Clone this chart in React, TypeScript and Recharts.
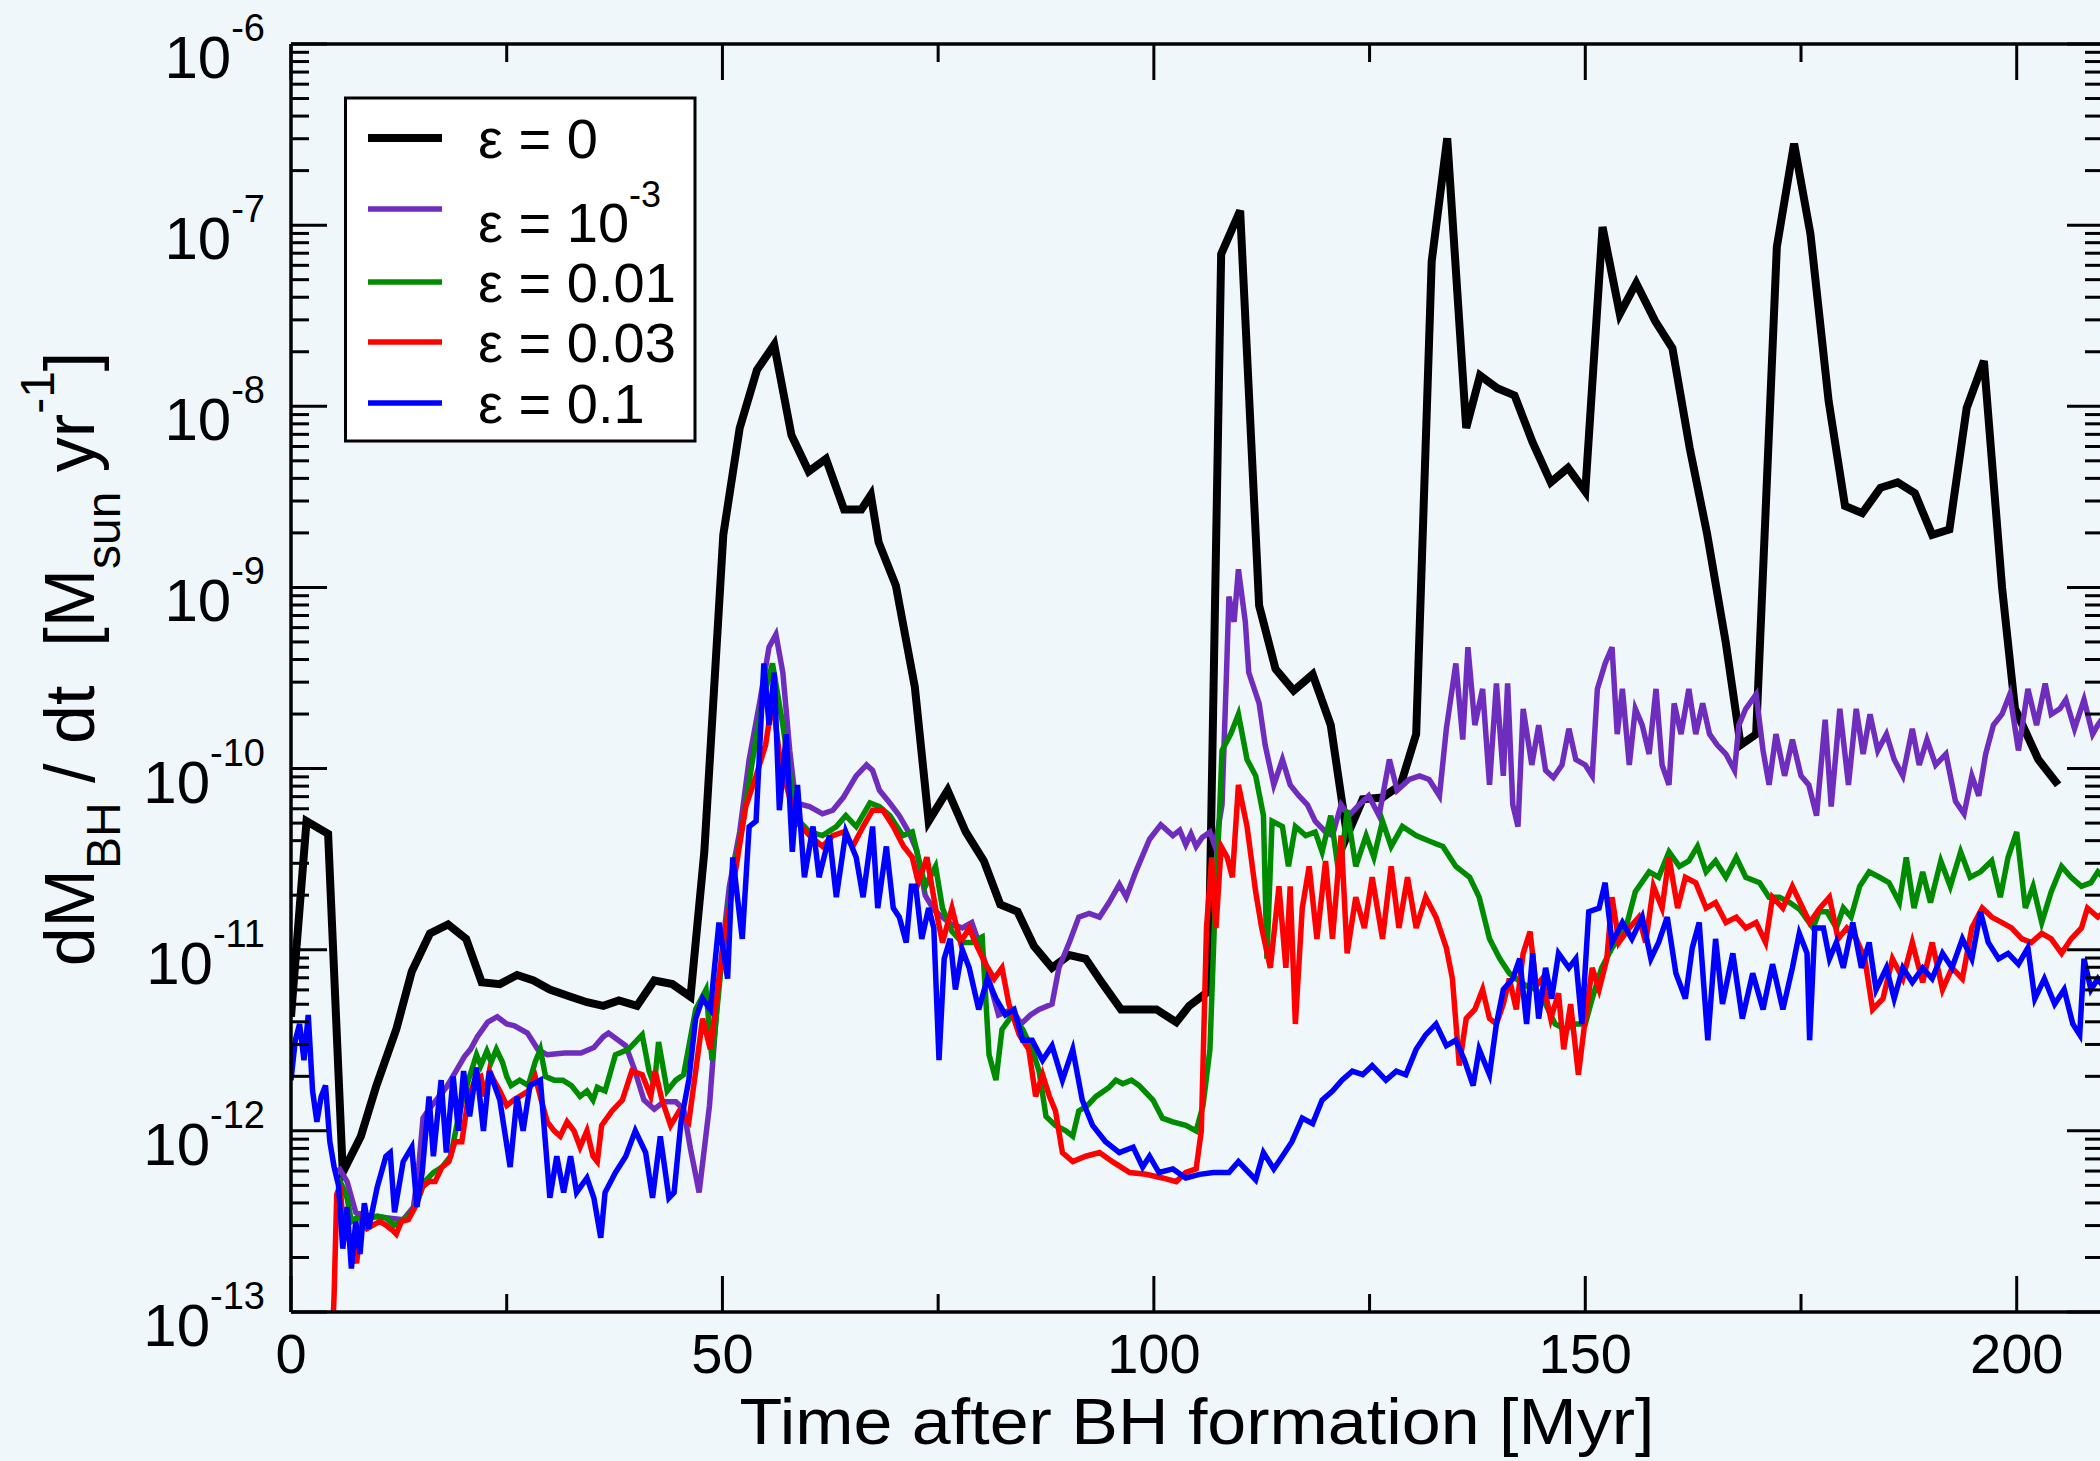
import React from 'react'
import { Line, LineChart, XAxis, YAxis } from 'recharts'

const BG = '#f0f7fb'
const FONT = '"Liberation Sans", Arial, Helvetica, sans-serif'

// [time after BH formation (Myr), log10 of dM/dt (Msun/yr)]
const eps0: [number, number][] = [
  [0, -11.37], [1.8, -10.29], [4.3, -10.36], [6.0, -12.23], [8.1, -12.03], [9.9, -11.75], [12.2, -11.44], [14.0, -11.12],
  [16.1, -10.91], [18.2, -10.86], [20.3, -10.94], [22.1, -11.18], [24.2, -11.19], [26.2, -11.14], [28.1, -11.17], [30.0, -11.22],
  [32.4, -11.26], [34.3, -11.29], [36.2, -11.31], [38.0, -11.28], [40.1, -11.31], [42.1, -11.17], [44.2, -11.19], [46.3, -11.26],
  [47.9, -10.46], [50.1, -8.71], [52.0, -8.12], [54.0, -7.8], [56.0, -7.66], [58.0, -8.16], [60.0, -8.36], [62.0, -8.29],
  [64.1, -8.57], [66.1, -8.57], [67.2, -8.49], [68.1, -8.75], [70.1, -8.99], [72.3, -9.55], [73.9, -10.29], [76.1, -10.12],
  [78.2, -10.35], [80.3, -10.51], [82.2, -10.75], [84.2, -10.79], [86.1, -10.98], [88.2, -11.1], [90.2, -11.03], [92.1, -11.05],
  [94.1, -11.19], [96.2, -11.33], [98.3, -11.33], [100.3, -11.33], [102.6, -11.4], [104.1, -11.31], [106.3, -11.23], [107.8, -7.16],
  [110.0, -6.92], [112.2, -9.1], [114.1, -9.45], [116.2, -9.57], [118.4, -9.48], [120.5, -9.76], [121.7, -10.15], [122.4, -10.37],
  [124.2, -10.17], [126.5, -10.16], [128.6, -10.09], [130.4, -9.81], [132.2, -7.2], [134.0, -6.52], [136.2, -8.12], [137.8, -7.83],
  [139.8, -7.9], [141.8, -7.94], [143.9, -8.2], [146.0, -8.42], [148.0, -8.34], [150.0, -8.47], [152.0, -7.01], [154.0, -7.49],
  [155.9, -7.32], [158.1, -7.53], [160.1, -7.68], [162.1, -8.23], [164.1, -8.7], [166.3, -9.31], [168.0, -9.87], [169.8, -9.81],
  [172.2, -7.12], [174.2, -6.55], [176.1, -7.05], [178.2, -7.97], [180.1, -8.55], [182.1, -8.59], [184.2, -8.45], [186.2, -8.42],
  [188.2, -8.48], [190.2, -8.71], [192.2, -8.68], [194.2, -8.01], [196.2, -7.75], [198.3, -9.0], [199.8, -9.67], [202.5, -9.95],
  [204.8, -10.09],
]

const eps1e3: [number, number][] = [
  [5.5, -12.2], [6.5, -12.28], [7.5, -12.45], [9, -12.47], [11, -12.48], [13, -12.49], [14.2, -12.42], [14.8, -12.2],
  [15.3, -11.93], [16, -11.88], [17, -11.82], [18, -11.76], [19, -11.68], [20.1, -11.59], [20.8, -11.55], [21.6, -11.48],
  [22.8, -11.4], [23.9, -11.37], [25.0, -11.41], [25.9, -11.42], [27.4, -11.46], [28.6, -11.55], [29.7, -11.58], [31.7, -11.57],
  [33.6, -11.57], [35.1, -11.54], [36.2, -11.48], [36.8, -11.46], [38.8, -11.53], [39.8, -11.66], [40.9, -11.83], [42.1, -11.88],
  [43.2, -11.84], [44.6, -11.84], [45.5, -11.88], [46.3, -12.1], [47.3, -12.34], [48.5, -11.86], [49.6, -11.16], [50.8, -10.65],
  [52.0, -10.35], [53.1, -9.95], [54.3, -9.64], [55.4, -9.33], [56.2, -9.26], [57.0, -9.47], [57.8, -9.9], [58.5, -10.19],
  [60.1, -10.21], [61.6, -10.25], [62.8, -10.23], [64.0, -10.16], [65.5, -10.04], [66.7, -9.98], [67.4, -10.01], [68.2, -10.12],
  [69.4, -10.19], [70.5, -10.26], [71.7, -10.36], [72.5, -10.45], [73.5, -10.7], [74.5, -10.78], [75.5, -10.82], [76.5, -10.86],
  [77.8, -10.88], [78.9, -10.85], [80.0, -11.0], [80.5, -11.08], [81.2, -11.22], [82.0, -11.36], [83.0, -11.34], [83.6, -11.33],
  [84.6, -11.41], [85.7, -11.36], [86.7, -11.33], [88.2, -11.3], [89.0, -11.1], [90.2, -10.96], [91.3, -10.82], [92.5, -10.8],
  [93.7, -10.82], [94.8, -10.74], [96.0, -10.64], [96.8, -10.71], [97.9, -10.57], [99.5, -10.39], [100.8, -10.31], [102.2, -10.37],
  [103.0, -10.34], [103.7, -10.42], [104.3, -10.36], [104.9, -10.43], [105.6, -10.38], [106.5, -10.35], [107.1, -10.43], [107.9, -10.2],
  [108.4, -9.5], [108.7, -9.05], [109.3, -9.19], [109.8, -8.9], [110.6, -9.19], [111.0, -9.47], [112.2, -9.64], [112.9, -9.87],
  [113.9, -10.09], [114.9, -9.95], [115.8, -10.09], [116.8, -10.15], [117.8, -10.2], [118.7, -10.29], [119.9, -10.35], [120.7, -10.37],
  [121.7, -10.2], [122.6, -10.26], [123.8, -10.2], [124.9, -10.15], [126.1, -10.26], [127.3, -9.95], [128.2, -10.12], [129.6, -10.06],
  [130.8, -10.04], [131.9, -10.06], [133.1, -10.15], [133.9, -9.78], [135.0, -9.42], [135.8, -9.84], [136.4, -9.33], [137.2, -9.76],
  [138.1, -9.56], [138.9, -10.09], [139.7, -9.53], [140.5, -10.04], [141.0, -9.53], [141.6, -10.2], [142.2, -10.32], [142.8, -9.67],
  [143.8, -9.98], [144.6, -9.76], [145.4, -10.01], [146.3, -10.05], [147.3, -9.98], [148.1, -9.78], [148.9, -9.95], [150.0, -9.98],
  [150.8, -10.04], [151.4, -9.56], [152.3, -9.42], [153.1, -9.33], [153.7, -9.81], [154.3, -9.56], [155.1, -9.98], [155.8, -9.67],
  [156.6, -9.76], [157.4, -9.92], [158.2, -9.56], [158.9, -9.98], [159.7, -10.09], [160.3, -9.64], [161.1, -9.81], [162.0, -9.56],
  [162.8, -9.81], [163.6, -9.64], [164.4, -9.81], [165.3, -9.87], [166.3, -9.92], [167.3, -10.01], [167.8, -9.76], [168.6, -9.67],
  [169.8, -9.59], [170.6, -9.9], [171.3, -10.09], [172.1, -9.81], [173.1, -10.04], [174.0, -9.84], [175.0, -10.04], [175.9, -10.09],
  [176.8, -10.26], [177.8, -9.73], [178.5, -10.21], [179.5, -9.67], [180.5, -10.09], [181.4, -9.67], [182.2, -9.92], [183.0, -9.7],
  [183.9, -9.9], [184.9, -9.81], [185.8, -9.95], [186.8, -10.04], [187.9, -9.78], [188.7, -9.98], [189.6, -9.84], [190.6, -9.98],
  [191.8, -9.92], [192.9, -10.18], [193.9, -10.25], [194.8, -10.04], [195.6, -10.15], [196.4, -9.92], [197.3, -9.76], [198.3, -9.7],
  [199.2, -9.59], [200.2, -9.9], [201.3, -9.56], [202.3, -9.76], [203.3, -9.53], [204.0, -9.7], [205.0, -9.67], [205.7, -9.62],
  [206.7, -9.78], [207.8, -9.62], [208.8, -9.81], [209.4, -9.76], [210, -9.72],
]

const eps001: [number, number][] = [
  [5.5, -12.26], [6, -12.31], [6.5, -12.37], [7, -12.5], [7.6, -12.48], [8.5, -12.49], [9.3, -12.48], [10, -12.47],
  [11, -12.48], [12, -12.52], [13, -12.49], [14, -12.45], [14.8, -12.37], [15.5, -12.28], [16.5, -12.23], [17.5, -12.2],
  [18.5, -12.14], [19.3, -11.95], [20, -11.81], [20.7, -11.7], [21.5, -11.58], [22, -11.64], [22.7, -11.56], [23.2, -11.62],
  [23.8, -11.55], [24.5, -11.62], [25, -11.7], [25.5, -11.75], [26.5, -11.72], [27.5, -11.75], [28.3, -11.62], [28.9, -11.55],
  [29.5, -11.7], [30.5, -11.72], [31.5, -11.72], [32.5, -11.75], [33.5, -11.81], [34.3, -11.78], [35, -11.83], [35.5, -11.76],
  [36.4, -11.78], [37.6, -11.58], [39.1, -11.55], [40.7, -11.47], [41.5, -11.67], [42.1, -11.75], [42.6, -11.51], [43.6, -11.78],
  [44.6, -11.72], [45.5, -11.69], [46.9, -11.33], [48.1, -11.22], [48.8, -11.61], [50.0, -11.02], [51.2, -10.6], [52.3, -10.32],
  [53.5, -9.95], [54.6, -9.64], [55.8, -9.42], [57.0, -9.76], [58.0, -10.09], [58.9, -10.29], [60.1, -10.35], [61.6, -10.37],
  [63.2, -10.32], [64.3, -10.26], [65.5, -10.32], [67.1, -10.19], [68.2, -10.21], [69.4, -10.26], [70.9, -10.37], [72.0, -10.35],
  [72.7, -10.49], [73.5, -10.65], [74.7, -10.54], [75.5, -10.77], [76.6, -10.9], [77.8, -10.96], [78.9, -10.96], [80.1, -10.93],
  [80.9, -11.58], [81.7, -11.72], [82.4, -11.44], [83.6, -11.36], [84.8, -11.44], [85.9, -11.55], [86.7, -11.67], [87.5, -11.92],
  [88.6, -11.97], [89.8, -12.0], [90.6, -12.03], [91.3, -11.89], [92.3, -11.86], [93.3, -11.81], [94.8, -11.76], [95.6, -11.72],
  [96.4, -11.74], [97.4, -11.72], [98.3, -11.75], [99.9, -11.83], [101.0, -11.93], [102.2, -11.95], [103.7, -11.97], [104.9, -12.0],
  [105.7, -11.86], [106.5, -11.55], [107.0, -10.88], [107.6, -10.26], [107.9, -9.9], [108.9, -9.81], [109.8, -9.7], [110.8, -9.95],
  [111.8, -10.04], [112.7, -10.26], [113.1, -11.05], [113.7, -10.29], [114.9, -10.32], [115.6, -10.54], [116.4, -10.32], [117.6, -10.37],
  [118.7, -10.35], [119.5, -10.46], [120.5, -10.26], [121.5, -10.6], [122.4, -10.23], [123.4, -10.54], [124.6, -10.37], [125.5, -10.49],
  [126.5, -10.29], [127.5, -10.43], [128.8, -10.32], [130.4, -10.37], [131.9, -10.4], [133.5, -10.43], [135.0, -10.54], [136.6, -10.6],
  [137.7, -10.71], [138.9, -10.94], [140.1, -11.05], [141.2, -11.13], [142.0, -11.16], [143.2, -11.2], [144.3, -11.22], [145.4, -11.3],
  [146.5, -11.41], [147.7, -11.44], [148.9, -11.41], [150.0, -11.41], [150.8, -11.27], [151.9, -11.1], [153.1, -10.99], [154.7, -10.88],
  [155.8, -10.68], [157.4, -10.57], [158.5, -10.6], [159.7, -10.46], [160.9, -10.54], [162.0, -10.51], [163.0, -10.43], [164.0, -10.57],
  [165.1, -10.51], [166.3, -10.6], [167.5, -10.49], [168.6, -10.6], [170.2, -10.63], [171.3, -10.71], [172.5, -10.71], [173.7, -10.74],
  [174.9, -10.78], [176.4, -10.88], [177.1, -10.79], [178.0, -10.79], [179.1, -10.88], [179.9, -10.77], [180.8, -10.82], [181.8, -10.65],
  [182.9, -10.57], [184.1, -10.6], [185.2, -10.63], [186.4, -10.74], [187.2, -10.49], [188.1, -10.77], [189.1, -10.57], [190.0, -10.74],
  [191.2, -10.51], [192.3, -10.65], [193.5, -10.46], [194.6, -10.6], [195.8, -10.57], [197.1, -10.51], [198.1, -10.71], [199.0, -10.49],
  [200.0, -10.35], [201.0, -10.77], [201.9, -10.65], [202.9, -10.85], [204.0, -10.68], [205.2, -10.54], [206.3, -10.6], [207.5, -10.65],
  [208.6, -10.63], [209.4, -10.57], [210, -10.6],
]

const eps003: [number, number][] = [
  [4.6, -13.4], [5.0, -12.9], [5.3, -12.35], [5.7, -12.3], [6, -12.5], [6.5, -12.56], [7.0, -12.65], [7.6, -12.73],
  [8.2, -12.5], [8.8, -12.54], [9.5, -12.52], [10.3, -12.5], [11, -12.52], [11.8, -12.55], [12.2, -12.57], [12.8, -12.5],
  [13.6, -12.49], [14.4, -12.42], [15.2, -12.31], [16, -12.28], [16.7, -12.28], [17.5, -12.2], [18.3, -12.17], [19, -12.06],
  [19.8, -12.06], [20.5, -11.83], [21.3, -11.72], [22, -11.7], [22.5, -11.81], [23, -11.67], [23.5, -11.72], [24.2, -11.78],
  [25, -11.86], [25.8, -11.83], [26.5, -11.81], [27.5, -11.78], [28.3, -11.7], [29, -11.83], [29.7, -11.95], [30.5, -12.0],
  [31.2, -12.03], [32, -11.95], [32.8, -12.0], [33.5, -12.09], [34.3, -12.0], [35, -12.14], [35.5, -12.17], [36.0, -11.97],
  [37.2, -11.89], [38.4, -11.83], [39.5, -11.67], [40.7, -11.69], [41.7, -11.81], [42.2, -11.67], [43.0, -11.83], [44.0, -11.97],
  [45.0, -11.89], [46.1, -11.95], [46.9, -11.67], [47.7, -11.38], [48.6, -11.55], [49.6, -11.16], [50.4, -10.88], [51.6, -10.54],
  [52.7, -10.21], [53.9, -10.04], [55.0, -9.87], [55.8, -9.62], [56.6, -9.92], [57.4, -10.09], [58.5, -10.29], [60.1, -10.37],
  [61.6, -10.43], [62.8, -10.37], [64.0, -10.35], [65.1, -10.43], [66.3, -10.32], [67.4, -10.23], [68.6, -10.23], [69.8, -10.32],
  [71.0, -10.43], [72.0, -10.49], [72.7, -10.63], [73.7, -10.49], [74.7, -10.77], [75.5, -10.96], [76.6, -10.77], [77.6, -10.96],
  [78.6, -10.88], [79.3, -10.96], [80.5, -11.08], [81.5, -11.16], [82.4, -11.1], [83.2, -11.3], [84.4, -11.47], [85.5, -11.55],
  [86.3, -11.81], [87.1, -11.69], [87.9, -11.81], [88.6, -11.89], [89.4, -12.12], [90.6, -12.17], [92.1, -12.14], [93.7, -12.12],
  [95.2, -12.17], [97.2, -12.23], [99.1, -12.24], [101.0, -12.26], [102.6, -12.28], [103.7, -12.23], [104.9, -12.21], [105.5, -12.0],
  [106.1, -10.88], [106.7, -10.49], [107.2, -10.88], [107.8, -10.43], [108.5, -10.49], [109.1, -10.6], [109.8, -10.09], [110.8, -10.32],
  [111.8, -10.68], [112.5, -10.88], [113.5, -11.1], [114.5, -10.65], [115.3, -11.1], [115.8, -10.65], [116.4, -11.41], [117.2, -10.77],
  [118.0, -10.54], [118.9, -10.94], [119.9, -10.51], [120.7, -10.94], [121.7, -10.37], [122.4, -11.02], [123.4, -10.71], [124.4, -10.88],
  [125.3, -10.6], [126.5, -10.94], [127.5, -10.54], [128.4, -10.88], [129.4, -10.6], [130.4, -10.88], [131.5, -10.71], [132.7, -10.82],
  [133.9, -10.99], [134.6, -11.16], [135.4, -11.64], [136.2, -11.38], [137.2, -11.33], [138.1, -11.22], [138.9, -11.38], [139.7, -11.41],
  [140.5, -11.3], [141.2, -11.16], [142.0, -11.33], [142.8, -11.02], [143.6, -10.9], [144.3, -11.2], [145.0, -11.16], [146.0, -11.38],
  [146.9, -11.24], [147.5, -11.55], [148.3, -11.3], [149.2, -11.69], [150.0, -11.38], [150.8, -11.1], [151.6, -11.22], [152.5, -11.05],
  [153.1, -10.71], [153.9, -10.96], [155.1, -10.88], [156.2, -10.82], [157.0, -10.96], [157.9, -10.65], [158.9, -10.77], [159.7, -10.49],
  [160.7, -10.77], [161.6, -10.6], [162.8, -10.63], [164.0, -10.77], [165.1, -10.74], [166.3, -10.85], [167.5, -10.82], [168.6, -10.88],
  [169.8, -10.85], [170.9, -10.96], [171.7, -10.71], [172.9, -10.77], [174.0, -10.65], [175.2, -10.77], [176.0, -10.85], [177.2, -10.77],
  [178.3, -10.71], [179.3, -10.94], [180.3, -10.88], [181.4, -10.94], [182.4, -11.05], [183.3, -11.33], [184.5, -11.27], [185.6, -11.05],
  [186.8, -11.16], [187.9, -10.96], [189.1, -11.18], [190.2, -10.96], [191.4, -11.22], [192.5, -11.1], [193.7, -11.16], [194.8, -10.88],
  [196.0, -10.77], [197.1, -10.82], [198.3, -10.85], [199.4, -10.88], [200.6, -10.94], [201.7, -10.96], [202.9, -10.91], [204.0, -10.94],
  [205.2, -11.02], [206.3, -10.94], [207.5, -10.88], [208.2, -10.77], [209.4, -10.82], [210, -10.8],
]

const eps01: [number, number][] = [
  [0, -11.72], [0.5, -11.5], [1, -11.41], [1.5, -11.61], [2, -11.36], [2.5, -11.78], [3, -11.95], [3.5, -11.81],
  [4, -11.75], [4.5, -12.06], [5, -12.2], [5.5, -12.3], [6, -12.65], [6.5, -12.42], [7, -12.76], [7.5, -12.5],
  [8, -12.68], [8.5, -12.4], [9, -12.54], [10, -12.31], [11, -12.14], [11.5, -12.12], [12, -12.45], [13, -12.17],
  [14, -12.09], [14.6, -12.42], [15.2, -12.23], [16, -11.81], [16.5, -12.14], [17.4, -11.72], [18, -12.12], [18.8, -11.7],
  [19.4, -12.0], [20, -11.67], [20.7, -11.92], [21.5, -11.65], [22.3, -12.0], [23, -11.67], [24.2, -11.83], [25.4, -12.2],
  [26.2, -11.81], [26.9, -12.0], [27.7, -11.75], [28.9, -11.72], [30, -12.37], [30.8, -12.14], [31.6, -12.34], [32.4, -12.14],
  [33.1, -12.34], [34.3, -12.26], [35.1, -12.37], [35.9, -12.59], [36.4, -12.34], [37.6, -12.23], [38.8, -12.14], [39.9, -12.0],
  [41.1, -12.12], [41.9, -12.37], [42.8, -12.03], [43.8, -12.37], [44.4, -12.34], [45.2, -11.95], [46.1, -11.72], [46.9, -11.38],
  [47.7, -11.27], [48.6, -11.33], [49.6, -10.85], [50.6, -11.16], [51.2, -10.49], [52.3, -10.94], [53.1, -10.32], [53.9, -10.29],
  [54.8, -9.42], [55.4, -9.76], [56.0, -9.47], [56.6, -10.23], [57.4, -9.81], [58.1, -10.46], [58.7, -10.09], [59.5, -10.6],
  [60.5, -10.32], [61.2, -10.6], [62.4, -10.37], [63.2, -10.71], [64.3, -10.35], [65.5, -10.49], [66.3, -10.71], [67.4, -10.32],
  [68.0, -10.77], [69.0, -10.43], [69.8, -10.77], [70.5, -10.82], [71.3, -10.96], [71.9, -10.65], [72.4, -10.65], [73.1, -10.94],
  [73.9, -10.77], [74.5, -10.88], [75.1, -11.61], [75.7, -11.05], [76.4, -10.94], [77.0, -11.22], [77.8, -11.0], [78.6, -11.1],
  [79.7, -11.33], [80.7, -11.16], [81.7, -11.27], [82.8, -11.36], [83.8, -11.33], [84.8, -11.5], [85.9, -11.5], [87.1, -11.61],
  [88.2, -11.53], [89.4, -11.72], [90.6, -11.55], [91.7, -11.83], [92.9, -11.97], [94.4, -12.06], [96.0, -12.12], [97.6, -12.09],
  [98.7, -12.2], [99.5, -12.14], [100.6, -12.23], [102.2, -12.21], [103.7, -12.26], [105.3, -12.24], [106.9, -12.23], [108.7, -12.23],
  [109.8, -12.17], [111.0, -12.23], [111.8, -12.27], [112.7, -12.12], [113.9, -12.21], [114.9, -12.14], [116.0, -12.06], [117.2, -11.93],
  [118.4, -11.96], [119.5, -11.83], [120.7, -11.78], [121.8, -11.72], [123.0, -11.67], [124.2, -11.69], [125.3, -11.64], [126.9, -11.72],
  [128.1, -11.67], [129.2, -11.69], [130.4, -11.55], [131.5, -11.47], [132.7, -11.41], [133.9, -11.53], [135.0, -11.5], [136.0, -11.61],
  [137.0, -11.75], [137.7, -11.55], [138.9, -11.69], [139.7, -11.41], [140.5, -11.22], [141.6, -11.16], [142.4, -11.05], [143.2, -11.41],
  [143.9, -11.02], [144.6, -11.38], [145.4, -11.1], [146.1, -11.27], [146.9, -11.02], [148.1, -11.1], [148.9, -11.05], [149.6, -11.41],
  [150.4, -10.79], [151.6, -10.77], [152.3, -10.63], [153.1, -10.96], [154.3, -10.85], [155.4, -10.94], [156.6, -10.82], [157.6, -11.05],
  [158.5, -10.96], [159.5, -10.82], [160.5, -11.13], [161.6, -11.27], [162.4, -10.99], [163.2, -10.85], [164.2, -11.5], [165.1, -10.94],
  [165.9, -11.3], [167.1, -11.02], [168.2, -11.38], [169.4, -11.13], [170.6, -11.33], [171.7, -11.08], [172.9, -11.33], [174.0, -11.1],
  [174.8, -10.91], [175.7, -11.02], [176.0, -11.5], [176.6, -10.88], [177.6, -10.88], [178.3, -11.05], [179.1, -10.96], [179.9, -11.1],
  [181.0, -10.85], [182.0, -11.1], [182.9, -10.96], [183.7, -11.22], [184.9, -11.1], [185.8, -11.27], [186.8, -11.1], [187.9, -11.18],
  [189.1, -11.1], [190.2, -11.16], [191.4, -11.02], [192.5, -11.1], [193.7, -10.94], [194.8, -11.05], [195.8, -10.79], [196.7, -10.96],
  [197.9, -11.05], [199.0, -11.02], [200.2, -11.08], [201.3, -10.99], [202.1, -11.27], [203.2, -11.16], [204.4, -11.3], [205.5, -11.22],
  [206.5, -11.41], [207.3, -11.47], [207.8, -11.05], [208.6, -11.22], [209.4, -11.16], [210, -11.2],
]

const xMajor = [0, 50, 100, 150, 200]
const xMinor = [25, 75, 125, 175]
const yExponents = [-13, -12, -11, -10, -9, -8, -7, -6]
const yMinorSteps = [2, 3, 4, 5, 6, 7, 8, 9]

const xTicks = [...xMajor, ...xMinor].sort((a, b) => a - b)
const yTicks = yExponents.flatMap((e) =>
  e < -6 ? [Math.pow(10, e), ...yMinorSteps.map((m) => m * Math.pow(10, e))] : [Math.pow(10, e)]
)
const isDecade = (v: number) => Math.abs(Math.log10(v) - Math.round(Math.log10(v))) < 1e-6

const toRows = (pts: [number, number][]) => pts.map(([t, e]) => ({ t, v: Math.pow(10, e) }))

const series = [
  { name: 'eps0', pts: eps0, color: '#000000', width: 8 },
  { name: 'eps1e3', pts: eps1e3, color: '#6f2dbd', width: 5.5 },
  { name: 'eps001', pts: eps001, color: '#008b00', width: 5.5 },
  { name: 'eps003', pts: eps003, color: '#ff0000', width: 5.5 },
  { name: 'eps01', pts: eps01, color: '#0000ff', width: 5.5 },
]

function XTick(props: any) {
  const { x, y, payload, top } = props
  const major = xMajor.includes(payload.value)
  const len = major ? 36 : 18
  return (
    <g>
      <line x1={x} x2={x} y1={y} y2={top ? y + len : y - len} stroke="#000" strokeWidth={3} />
      {!top && major && (
        <text x={x} y={y + 61} textAnchor="middle" fontSize={56} fontFamily={FONT} fill="#000">
          {payload.value}
        </text>
      )}
    </g>
  )
}

function YTick(props: any) {
  const { x, y, payload, right } = props
  const major = isDecade(payload.value)
  const len = major ? 36 : 18
  const exp = Math.round(Math.log10(payload.value))
  return (
    <g>
      <line x1={x} x2={right ? x - len : x + len} y1={y} y2={y} stroke="#000" strokeWidth={3} />
      {!right && major && (
        <text x={x - 26} y={y + 34} textAnchor="end" fontSize={60} fontFamily={FONT} fill="#000">
          <tspan>10</tspan>
          <tspan dy={-37} fontSize={38}>{String(exp)}</tspan>
        </text>
      )}
    </g>
  )
}

const legendRows = [
  { color: '#000000', width: 8, lineY: 138, textY: 158, label: '0' },
  { color: '#6f2dbd', width: 5.5, lineY: 209, textY: 242, label: '10', sup: '-3' },
  { color: '#008b00', width: 5.5, lineY: 282, textY: 302, label: '0.01' },
  { color: '#ff0000', width: 5.5, lineY: 342, textY: 362, label: '0.03' },
  { color: '#0000ff', width: 5.5, lineY: 403, textY: 423, label: '0.1' },
]

export default function App() {
  const axisLine = { stroke: '#000', strokeWidth: 3.5 }
  return (
    <div style={{ position: 'absolute', left: 0, top: 0, width: 2100, height: 1461, overflow: 'hidden', background: BG }}>
      <LineChart width={2140} height={1461} margin={{ top: 14, right: 7, bottom: 119, left: 0 }}>
        <XAxis
          xAxisId="b"
          dataKey="t"
          type="number"
          domain={[0, 210]}
          allowDataOverflow
          ticks={xTicks}
          interval={0}
          height={30}
          tickSize={0}
          tickMargin={0}
          tickLine={false}
          axisLine={axisLine}
          tick={(p: any) => <XTick {...p} />}
        />
        <XAxis
          xAxisId="t"
          orientation="top"
          dataKey="t"
          type="number"
          domain={[0, 210]}
          allowDataOverflow
          ticks={xTicks}
          interval={0}
          height={30}
          tickSize={0}
          tickMargin={0}
          tickLine={false}
          axisLine={axisLine}
          tick={(p: any) => <XTick {...p} top />}
        />
        <YAxis
          yAxisId="l"
          type="number"
          scale="log"
          domain={[1e-13, 1e-6]}
          allowDataOverflow
          ticks={yTicks}
          interval={0}
          width={291}
          tickSize={0}
          tickMargin={0}
          tickLine={false}
          axisLine={axisLine}
          tick={(p: any) => <YTick {...p} />}
        />
        <YAxis
          yAxisId="r"
          orientation="right"
          type="number"
          scale="log"
          domain={[1e-13, 1e-6]}
          allowDataOverflow
          ticks={yTicks}
          interval={0}
          width={30}
          tickSize={0}
          tickMargin={0}
          tickLine={false}
          axisLine={axisLine}
          tick={(p: any) => <YTick {...p} right />}
        />
        {series.map((s) => (
          <Line
            key={s.name}
            xAxisId="b"
            yAxisId="l"
            data={toRows(s.pts)}
            dataKey="v"
            type="linear"
            stroke={s.color}
            strokeWidth={s.width}
            dot={false}
            activeDot={false}
            isAnimationActive={false}
          />
        ))}
      </LineChart>
      <svg
        width={2100}
        height={1461}
        style={{ position: 'absolute', left: 0, top: 0, pointerEvents: 'none' }}
        fontFamily={FONT}
      >
        <rect x={345.5} y={98} width={349.5} height={343} fill="#fff" stroke="#000" strokeWidth={3} />
        {legendRows.map((r) => (
          <g key={r.label}>
            <line x1={368} x2={442} y1={r.lineY} y2={r.lineY} stroke={r.color} strokeWidth={r.width} />
            <text x={478} y={r.textY} fontSize={56} fill="#000" style={{ whiteSpace: 'pre' }}>
              <tspan>{'ε = ' + r.label}</tspan>
              {r.sup && <tspan dy={-35} fontSize={36}>{r.sup}</tspan>}
            </text>
          </g>
        ))}
        <text x={1197} y={1444} textAnchor="middle" fontSize={65} fill="#000" textLength={915} lengthAdjust="spacingAndGlyphs">
          Time after BH formation [Myr]
        </text>
        <text
          transform="translate(94,659) rotate(-90)"
          textAnchor="middle"
          fontSize={70}
          fill="#000"
          style={{ whiteSpace: 'pre' }}
        >
          <tspan>dM</tspan>
          <tspan dy={26} fontSize={48}>BH</tspan>
          <tspan dy={-26}>{' / dt  [M'}</tspan>
          <tspan dy={26} fontSize={48}>sun</tspan>
          <tspan dy={-26}>{' yr'}</tspan>
          <tspan dy={-40} fontSize={48}>-1</tspan>
          <tspan dy={40}>]</tspan>
        </text>
      </svg>
    </div>
  )
}
